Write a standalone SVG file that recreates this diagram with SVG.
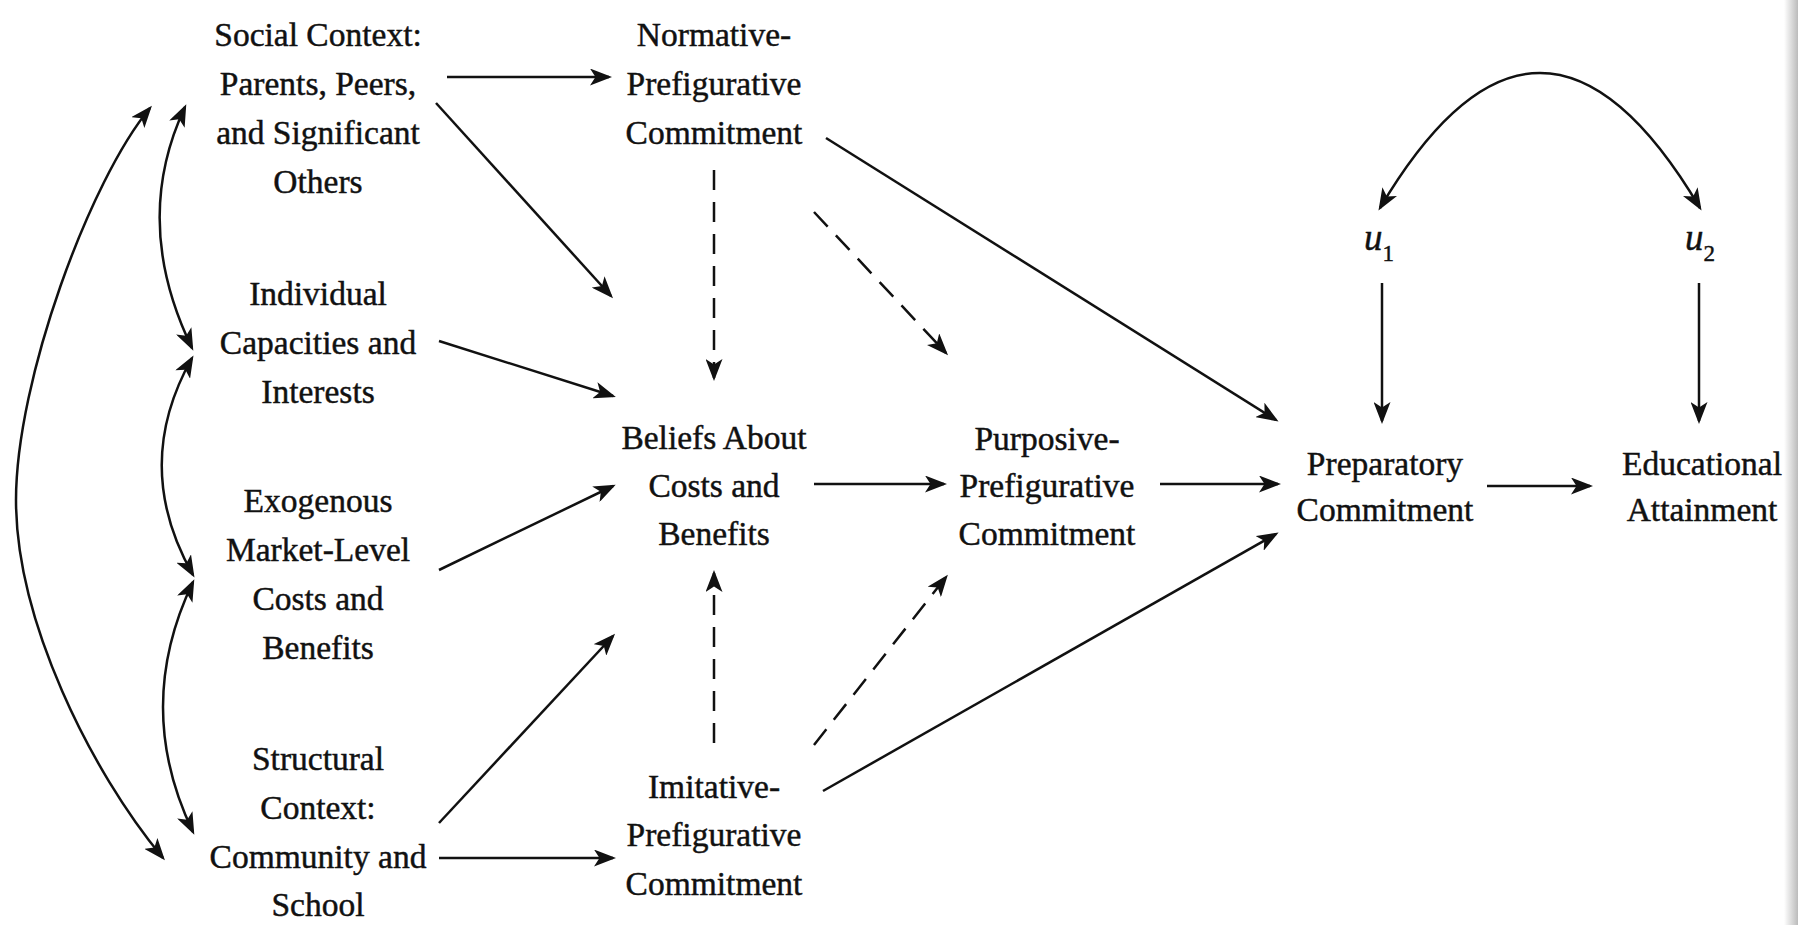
<svg xmlns="http://www.w3.org/2000/svg" width="1798" height="925" viewBox="0 0 1798 925">
<defs>
<style>
.t{font-family:"Liberation Serif","Times New Roman",serif;font-size:33.5px;fill:#111;stroke:#111;stroke-width:0.45;text-anchor:middle}
.u{font-size:37px}
.s{font-size:23px}
.c{fill:none;stroke:#111;stroke-width:2.5}
.d{stroke-dasharray:20 12}
.a{marker-end:url(#ah)}
.b{marker-start:url(#ah);marker-end:url(#ah)}
</style>
<marker id="ah" markerUnits="userSpaceOnUse" viewBox="0 0 22 17" refX="19" refY="8.5" markerWidth="22" markerHeight="17" orient="auto-start-reverse">
<path d="M0,0 L22,8.5 L0,17 L5.5,8.5 Z" fill="#111"/>
</marker>
<linearGradient id="edge" x1="0" y1="0" x2="1" y2="0">
<stop offset="0" stop-color="#fff"/>
<stop offset="1" stop-color="#bbb"/>
</linearGradient>
</defs>
<rect width="1798" height="925" fill="#fff"/>
<rect x="1784" y="0" width="14" height="925" fill="url(#edge)"/>

<g id="social"><text class="t"><tspan x="318" y="46">Social Context:</tspan><tspan x="318" y="95">Parents, Peers,</tspan><tspan x="318" y="144">and Significant</tspan><tspan x="318" y="193">Others</tspan></text></g>
<g id="individual"><text class="t"><tspan x="318" y="305">Individual</tspan><tspan x="318" y="354">Capacities and</tspan><tspan x="318" y="403">Interests</tspan></text></g>
<g id="exogenous"><text class="t"><tspan x="318" y="512">Exogenous</tspan><tspan x="318" y="561">Market-Level</tspan><tspan x="318" y="610">Costs and</tspan><tspan x="318" y="659">Benefits</tspan></text></g>
<g id="structural"><text class="t"><tspan x="318" y="770">Structural</tspan><tspan x="318" y="819">Context:</tspan><tspan x="318" y="868">Community and</tspan><tspan x="318" y="916">School</tspan></text></g>
<g id="normative"><text class="t"><tspan x="714" y="46">Normative-</tspan><tspan x="714" y="95">Prefigurative</tspan><tspan x="714" y="144">Commitment</tspan></text></g>
<g id="beliefs"><text class="t"><tspan x="714" y="449">Beliefs About</tspan><tspan x="714" y="497">Costs and</tspan><tspan x="714" y="545">Benefits</tspan></text></g>
<g id="imitative"><text class="t"><tspan x="714" y="798">Imitative-</tspan><tspan x="714" y="846">Prefigurative</tspan><tspan x="714" y="895">Commitment</tspan></text></g>
<g id="purposive"><text class="t"><tspan x="1047" y="450">Purposive-</tspan><tspan x="1047" y="497">Prefigurative</tspan><tspan x="1047" y="545">Commitment</tspan></text></g>
<g id="preparatory"><text class="t"><tspan x="1385" y="475">Preparatory</tspan><tspan x="1385" y="521">Commitment</tspan></text></g>
<g id="attainment"><text class="t"><tspan x="1702" y="475">Educational</tspan><tspan x="1702" y="521">Attainment</tspan></text></g>
<g id="u1"><text class="t u" x="1379" y="250"><tspan font-style="italic">u</tspan><tspan class="s" dy="11">1</tspan></text></g>
<g id="u2"><text class="t u" x="1700" y="250"><tspan font-style="italic">u</tspan><tspan class="s" dy="11">2</tspan></text></g>

<g id="connectors">
<path class="c b" d="M150,108 C90,180 16,380 16,500 C16,620 90,770 163,858"/>
<path class="c b" d="M185,107 Q131,222 192,348"/>
<path class="c b" d="M192,358 Q131,466 193,575"/>
<path class="c b" d="M193,582 Q133,707 193,832"/>
<path class="c b" d="M1380,208 Q1540,-62 1700,208"/>
<line class="c a" x1="447" y1="77" x2="609" y2="77"/>
<line class="c a" x1="436" y1="103" x2="611" y2="296"/>
<line class="c a" x1="439" y1="341" x2="613" y2="396"/>
<line class="c a" x1="439" y1="570" x2="613" y2="486"/>
<line class="c a" x1="439" y1="823" x2="613" y2="636"/>
<line class="c a" x1="439" y1="858" x2="613" y2="858"/>
<line class="c d a" x1="714" y1="170" x2="714" y2="378"/>
<line class="c d a" x1="814" y1="212" x2="946" y2="353"/>
<line class="c a" x1="826" y1="138" x2="1276" y2="420"/>
<line class="c a" x1="814" y1="484" x2="944" y2="484"/>
<line class="c d a" x1="714" y1="743" x2="714" y2="573"/>
<line class="c d a" x1="814" y1="745" x2="946" y2="577"/>
<line class="c a" x1="823" y1="791" x2="1276" y2="534"/>
<line class="c a" x1="1160" y1="484" x2="1278" y2="484"/>
<line class="c a" x1="1487" y1="486" x2="1590" y2="486"/>
<line class="c a" x1="1382" y1="283" x2="1382" y2="421"/>
<line class="c a" x1="1699" y1="283" x2="1699" y2="421"/>
</g>
</svg>
